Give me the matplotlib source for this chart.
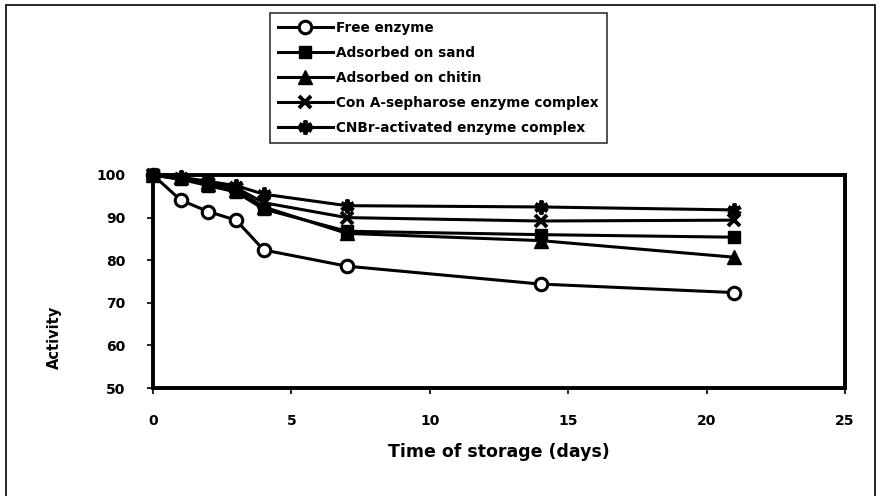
import matplotlib.pyplot as plt
from matplotlib.patches import Rectangle

plt.rcParams['font.family'] = ['DejaVu Sans']
plt.rcParams['font.weight'] = 'bold'

# Datos
days = [0, 1, 2, 3, 4, 7, 14, 21]
free_enzyme = [100, 94.1, 91.4, 89.4, 82.4, 78.6, 74.4, 72.4]
sand = [100, 99.0, 97.5, 96.0, 92.0, 86.8, 86.0, 85.4]
chitin = [100, 99.5, 98.0, 96.5, 92.5, 86.3, 84.6, 80.7]
con_a = [100, 99.0, 98.0, 97.0, 93.5, 90.0, 89.2, 89.4]
cnbr = [100, 99.5, 98.5, 97.5, 95.5, 92.8, 92.5, 91.8]

labels = ['Free enzyme', 'Adsorbed on sand', 'Adsorbed on chitin',
          'Con A-sepharose enzyme complex', 'CNBr-activated enzyme complex']
xticks = [0, 5, 10, 15, 20, 25]
yticks = [50, 60, 70, 80, 90, 100]

fig = plt.figure(figsize=(8.81, 4.96), dpi=100)
ax = fig.add_axes([153/881, 1 - 388/496, (845 - 153)/881, (388 - 175)/496])

# marco exterior
fig.patches.append(Rectangle((6/881, -0.05), 869/881, 1.04, transform=fig.transFigure,
                             fill=False, edgecolor='black', linewidth=1.2))

lw = 2.2
ms = 9
ax.plot(days, free_enzyme, color='black', lw=lw, marker='o', ms=ms,
        mfc='white', mec='black', mew=2.2, label=labels[0], clip_on=False, zorder=3)
ax.plot(days, sand, color='black', lw=lw, marker='s', ms=ms,
        label=labels[1], clip_on=False, zorder=3)
ax.plot(days, chitin, color='black', lw=lw, marker='^', ms=ms + 1,
        label=labels[2], clip_on=False, zorder=3)
ax.plot(days, con_a, color='black', lw=lw, marker='x', ms=ms, mew=2.8,
        label=labels[3], clip_on=False, zorder=3)
ax.plot(days, cnbr, color='black', lw=lw, marker=(6, 2, 0), ms=ms + 1, mew=2.8,
        label=labels[4], clip_on=False, zorder=3)

ax.set_xlim(0, 25)
ax.set_ylim(50, 100)
ax.set_xticks(xticks)
ax.set_yticks(yticks)
ax.tick_params(direction='out', length=4, width=1.2, labelsize=10)
ax.tick_params(axis='x', pad=15)
ax.tick_params(axis='y', pad=16)
for s in ax.spines.values():
    s.set_linewidth(2.8)

ax.set_xlabel('Time of storage (days)', fontsize=12.5, fontweight='bold')
ax.xaxis.set_label_coords(0.5, -0.26)
ax.set_ylabel('Activity', fontsize=10.5, fontweight='bold')
ax.yaxis.set_label_coords(-0.132, 0.24)

leg = fig.legend(loc='upper left', bbox_to_anchor=(270/881, 1 - 13/496),
                 fontsize=9.8, frameon=True, fancybox=False, edgecolor='black',
                 handlelength=4.0, handletextpad=0.25, labelspacing=0.8,
                 borderpad=0.6, borderaxespad=0)
leg.get_frame().set_linewidth(1.2)

fig.savefig('out.png', dpi=100)
